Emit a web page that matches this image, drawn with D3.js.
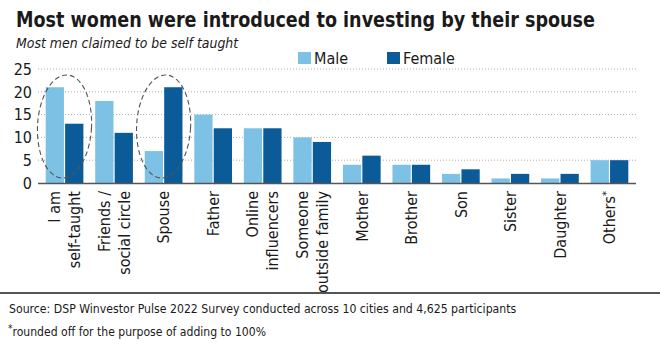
<!DOCTYPE html>
<html><head><meta charset="utf-8">
<script src="https://cdn.jsdelivr.net/npm/d3@7"></script>
<style>
body{margin:0;background:#fff;}
svg{display:block;}
text{font-family:"DejaVu Sans Condensed","DejaVu Sans",sans-serif;fill:#1a1a1a;}
</style></head><body>
<svg id="c" width="660" height="355"></svg>
<script>
const categories = [["I am","self-taught"],["Friends /","social circle"],["Spouse"],["Father"],["Online","influencers"],["Someone","outside family"],["Mother"],["Brother"],["Son"],["Sister"],["Daughter"],["Others*"]];
const seriesNames = ["Male","Female"];
const maleValues = [21,18,7,15,12,10,4,4,2,1,1,5];
const femaleValues = [13,11,21,12,12,9,6,4,3,2,2,5];
const yTicks = [0,5,10,15,20,25];
const highlighted = [0,2];
const titleText = "Most women were introduced to investing by their spouse";
const subtitleText = "Most men claimed to be self taught";
const sourceText = "Source: DSP Winvestor Pulse 2022 Survey conducted across 10 cities and 4,625 participants";
const noteText = "rounded off for the purpose of adding to 100%";

const colors = ["#7dc1e5","#0b5b98"];
const svg = d3.select("#c");

function fit(sel, w){
  let fs = parseFloat(sel.attr("font-size"));
  for(let i=0;i<3;i++){
    const l = sel.node().getComputedTextLength();
    fs = fs * w / l;
    sel.attr("font-size", fs);
  }
}

// Title
svg.append("text").attr("x",16).attr("y",27).attr("font-size",20.5).attr("font-weight","bold").attr("fill","#111")
  .attr("textLength",579).attr("lengthAdjust","spacingAndGlyphs").text(titleText);
fit(svg.append("text").attr("x",16).attr("y",48).attr("font-size",14).attr("font-style","italic").text(subtitleText), 222);

// Legend
const leg = [{x:298, tx:314},{x:387, tx:403}];
seriesNames.forEach((n,i)=>{
  svg.append("rect").attr("x",leg[i].x).attr("y",52).attr("width",13).attr("height",12).attr("fill",colors[i]);
  svg.append("text").attr("x",leg[i].tx).attr("y",64).attr("font-size",16).text(n);
});

const keys = categories.map((c,i)=>i);
const x = d3.scaleBand().domain(keys).range([38,636]).paddingInner(0.239).paddingOuter(0.155);
const xs = d3.scaleBand().domain(seriesNames).range([0,x.bandwidth()]).paddingInner(0.06);
const y = d3.scaleLinear().domain([0,25]).range([183,69]);

// grid
svg.append("g").selectAll("line").data(yTicks.filter(t=>t>0)).join("line")
  .attr("x1",38).attr("x2",636).attr("y1",d=>y(d)).attr("y2",d=>y(d))
  .attr("stroke","#b0b0b0").attr("stroke-width",1).attr("stroke-dasharray","1,2");

// y labels
svg.append("g").selectAll("text").data(yTicks).join("text")
  .attr("x",32).attr("y",d=>y(d)).attr("dy","0.36em").attr("text-anchor","end")
  .attr("font-size",16).text(d=>d);

// bars
const data = keys.map(i=>({i, vals:[maleValues[i],femaleValues[i]]}));
const g = svg.append("g").selectAll("g").data(data).join("g").attr("transform",d=>`translate(${x(d.i)},0)`);
g.selectAll("rect").data(d=>d.vals.map((v,j)=>({v,s:seriesNames[j],j}))).join("rect")
  .attr("x",d=>xs(d.s)).attr("width",xs.bandwidth())
  .attr("y",d=>y(d.v)).attr("height",d=>y(0)-y(d.v)).attr("fill",d=>colors[d.j]);

// baseline
svg.append("line").attr("x1",38).attr("x2",636).attr("y1",y(0)+0.5).attr("y2",y(0)+0.5).attr("stroke","#555").attr("stroke-width",1.5);

// ellipses
highlighted.forEach(i=>{
  const cx = x(i)+x.bandwidth()/2, cy=(y(23.7)+y(1.1))/2, ry=(y(1.1)-y(23.7))/2;
  svg.append("ellipse").attr("cx",0).attr("cy",0).attr("rx",27).attr("ry",ry)
    .attr("transform",`translate(${cx},${cy}) rotate(3)`)
    .attr("fill","none").attr("stroke","#555").attr("stroke-width",1.1).attr("stroke-dasharray","5,3");
});

// x labels
categories.forEach((lines,i)=>{
  const cx = x(i)+x.bandwidth()/2;
  const t = svg.append("text").attr("transform",`translate(${cx},191) rotate(-90)`)
    .attr("text-anchor","end").attr("font-size",16);
  lines.forEach((ln,k)=>{
    const off = (k-(lines.length-1)/2)*20;
    const ts = t.append("tspan").attr("x",0).attr("y",off).attr("dy","0.36em");
    if(ln.endsWith("*")){
      ts.text(ln.slice(0,-1));
      t.append("tspan").attr("font-size",11).attr("dy","-0.5em").text("*");
    } else ts.text(ln);
  });
});

// footer
svg.append("line").attr("x1",0).attr("x2",660).attr("y1",293).attr("y2",293).attr("stroke","#555").attr("stroke-width",2);
fit(svg.append("text").attr("x",9).attr("y",313).attr("font-size",13).text(sourceText), 507);
const nt = svg.append("text").attr("x",8).attr("y",336).attr("font-size",13);
nt.append("tspan").attr("font-size",10).attr("dy","-4").text("*");
nt.append("tspan").attr("dy","4").text(noteText);
fit(nt, 258);
</script></body></html>
